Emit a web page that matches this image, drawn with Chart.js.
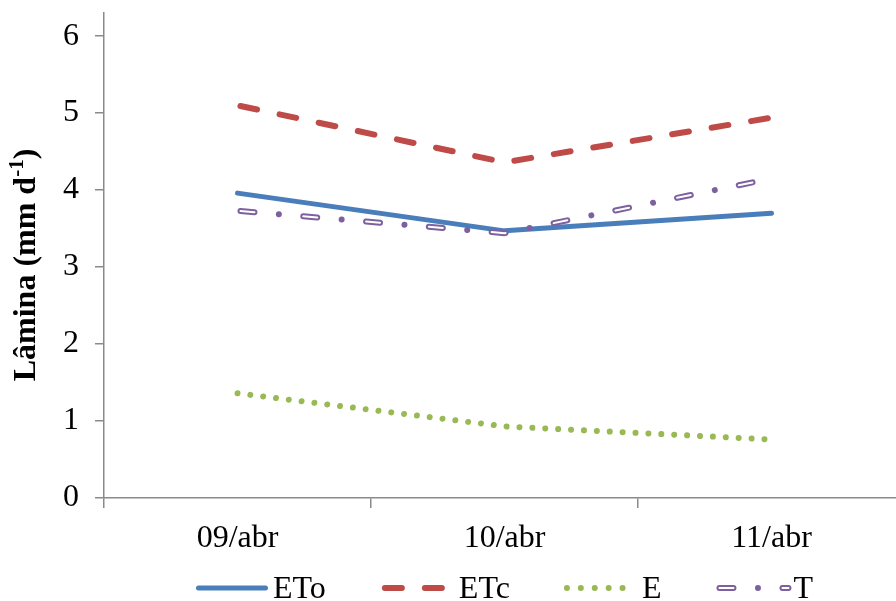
<!DOCTYPE html>
<html>
<head>
<meta charset="utf-8">
<script src="https://cdn.jsdelivr.net/npm/chart.js@4.4.1/dist/chart.umd.min.js"></script>
<style>
  html, body { margin: 0; padding: 0; background: #fff; overflow: hidden; width: 896px; height: 601px; }
  #wrap { position: relative; width: 905px; height: 601px; }
  canvas { display: block; }
</style>
</head>
<body>
<div id="wrap"><canvas id="c" width="905" height="601"></canvas></div>
<script>
// Daily water depth (mm/day) per date
const categories = ['09/abr', '10/abr', '11/abr'];
const etoValues = [3.96, 3.47, 3.70];
const etcValues = [5.10, 4.36, 4.94];
const eValues   = [1.36, 0.93, 0.76];
const tValues   = [3.73, 3.44, 4.15];
const yTickValues = [0, 1, 2, 3, 4, 5, 6];
const seriesNames = ['ETo', 'ETc', 'E', 'T'];

const FONT = "'Liberation Serif', 'Times New Roman', serif";
const AXIS_GREY = '#8a8a8a';

// Line styles of the four series (chart lines and legend samples)
const styles = {
  ETo: { color: '#4A7EBB', width: 5,   dash: [],                     offset: 0,  legendDash: [],           legendOffset: 0,  inset: 2.5 },
  ETc: { color: '#BE4B48', width: 6,   dash: [17, 23],               offset: -3, legendDash: [17, 23],     legendOffset: -3, inset: 0 },
  E:   { color: '#98B954', width: 6,   dash: [0.01, 12.9],           offset: 0,  legendDash: [0.01, 13.9], legendOffset: 0,  inset: 2 },
  T:   { color: '#7D60A0', width: 6,   dash: [14, 24.5, 0.01, 24.5], offset: -3,
         legendDash: [14, 24.5, 0.01, 24.5], legendOffset: -3, inset: 0,
         inner: { color: '#ffffff', width: 2, dash: [14, 49.01] } }
};

function lineDataset(label, data, st, order) {
  return {
    label, data, order,
    borderColor: st.color, backgroundColor: st.color, borderWidth: st.width,
    borderDash: st.dash, borderDashOffset: st.offset,
    borderCapStyle: 'round', borderJoinStyle: 'round',
    pointRadius: 0, pointHoverRadius: 0, fill: false, tension: 0
  };
}

const datasets = [
  lineDataset('ETo', etoValues, styles.ETo, 3),
  lineDataset('ETc', etcValues, styles.ETc, 3),
  lineDataset('E',   eValues,   styles.E,   3),
  lineDataset('T',   tValues,   styles.T,   2),
  // white core of the hollow T dashes, drawn on top
  lineDataset('T-core', tValues, {
    color: styles.T.inner.color, width: styles.T.inner.width,
    dash: styles.T.inner.dash, offset: styles.T.offset
  }, 1)
];

function strokeSample(ctx, x0, x1, y, color, width, dash, offset) {
  ctx.save();
  ctx.strokeStyle = color;
  ctx.lineWidth = width;
  ctx.lineCap = 'round';
  ctx.setLineDash(dash);
  ctx.lineDashOffset = offset;
  ctx.beginPath();
  ctx.moveTo(x0, y);
  ctx.lineTo(x1, y);
  ctx.stroke();
  ctx.restore();
}

const decorations = {
  id: 'decorations',
  afterDraw(chart) {
    const ctx = chart.ctx;
    const area = chart.chartArea;

    // rotated y-axis title with superscript
    ctx.save();
    ctx.fillStyle = '#000';
    ctx.textBaseline = 'alphabetic';
    ctx.textAlign = 'left';
    const mainFont = 'bold 32px ' + FONT;
    const supFont = 'bold 21px ' + FONT;
    ctx.font = mainFont;
    const wMain = ctx.measureText('Lâmina (mm d').width;
    const wEnd = ctx.measureText(')').width;
    ctx.font = supFont;
    const wSup = ctx.measureText('-1').width;
    const total = wMain + wSup + wEnd;
    ctx.translate(35, 265);
    ctx.rotate(-Math.PI / 2);
    let x = -total / 2;
    ctx.font = mainFont;
    ctx.fillText('Lâmina (mm d', x, 0);
    x += wMain;
    ctx.font = supFont;
    ctx.fillText('-1', x, -12);
    x += wSup;
    ctx.font = mainFont;
    ctx.fillText(')', x, 0);
    ctx.restore();

    // legend
    ctx.save();
    ctx.font = '32px ' + FONT;
    ctx.fillStyle = '#000';
    ctx.textBaseline = 'alphabetic';
    const sampleW = 72, textGap = 5, itemGaps = [56, 55, 55];
    const widths = seriesNames.map(n => ctx.measureText(n).width);
    let totalW = 0;
    widths.forEach((w, i) => { totalW += sampleW + textGap + w + (i < itemGaps.length ? itemGaps[i] : 0); });
    let lx = (area.left + area.right) / 2 - totalW / 2;
    const ly = 588, ty = 598;
    seriesNames.forEach((name, i) => {
      const st = styles[name];
      strokeSample(ctx, lx + st.inset, lx + sampleW - st.inset, ly, st.color, st.width, st.legendDash, st.legendOffset);
      if (st.inner) {
        strokeSample(ctx, lx + st.inset, lx + sampleW - st.inset, ly, st.inner.color, st.inner.width, st.inner.dash, st.legendOffset);
      }
      ctx.fillText(name, lx + sampleW + textGap, ty);
      lx += sampleW + textGap + widths[i] + (i < itemGaps.length ? itemGaps[i] : 0);
    });
    ctx.restore();
  }
};

new Chart(document.getElementById('c'), {
  type: 'line',
  data: { labels: categories, datasets },
  options: {
    responsive: false,
    animation: false,
    devicePixelRatio: 1,
    layout: { padding: { top: 13, left: 0, right: 0, bottom: 43 } },
    plugins: { legend: { display: false }, tooltip: { enabled: false }, title: { display: false } },
    scales: {
      x: {
        type: 'category',
        offset: true,
        grid: { display: true, offset: true, drawOnChartArea: false, drawTicks: true, tickLength: 10, color: AXIS_GREY, lineWidth: 1.5 },
        border: { display: true, color: AXIS_GREY, width: 1.5 },
        ticks: { color: '#000', font: { family: FONT, size: 32 }, padding: 11, maxRotation: 0, autoSkip: false },
        afterFit(s) { s.height = 60; s.paddingLeft = 0; s.paddingRight = 0; }
      },
      y: {
        min: 0,
        max: 6.3,
        afterBuildTicks(s) { s.ticks = yTickValues.map(v => ({ value: v })); },
        grid: { display: true, drawOnChartArea: false, drawTicks: true, tickLength: 9, color: AXIS_GREY, lineWidth: 1.5 },
        border: { display: true, color: AXIS_GREY, width: 1.5 },
        ticks: { color: '#000', font: { family: FONT, size: 32 }, padding: 16 },
        afterFit(s) { s.width = 104; s.paddingTop = 0; s.paddingBottom = 0; }
      }
    }
  },
  plugins: [decorations]
});
</script>
</body>
</html>
